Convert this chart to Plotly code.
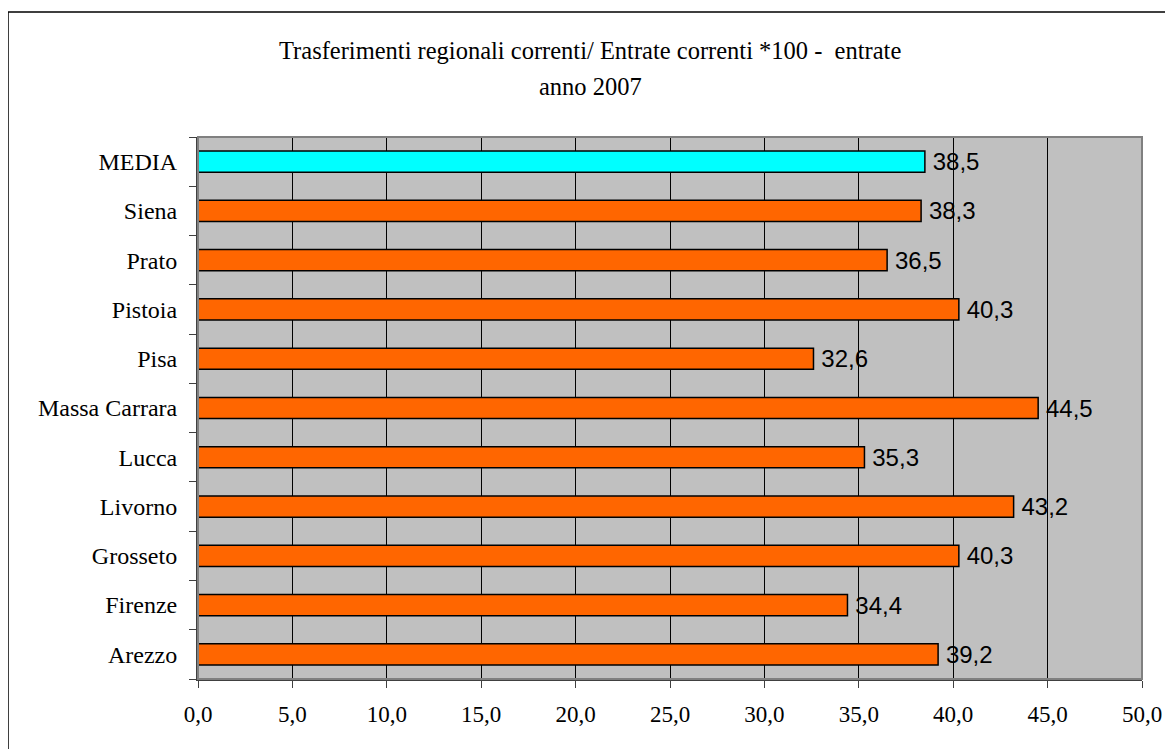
import plotly.graph_objects as go

categories = ["Arezzo", "Firenze", "Grosseto", "Livorno", "Lucca", "Massa Carrara",
              "Pisa", "Pistoia", "Prato", "Siena", "MEDIA"]
values = [39.2, 34.4, 40.3, 43.2, 35.3, 44.5, 32.6, 40.3, 36.5, 38.3, 38.5]
bar_colors = ["#FF6600"] * 10 + ["#00FFFF"]
x_ticks = [0, 5, 10, 15, 20, 25, 30, 35, 40, 45, 50]
title_line1 = "Trasferimenti regionali correnti/ Entrate correnti *100 -  entrate"
title_line2 = "anno 2007"

# page body has an 8px margin; figure coordinates are screen coordinates minus 8
OFF = 8
W, H = 1173 - OFF, 749 - OFF
L, R, T, B = 198 - OFF, 1173 - 1142, 137 - OFF, 749 - 679
pw, ph = W - L - R, H - T - B

fig = go.Figure()
fig.add_trace(go.Bar(
    y=categories, x=values, orientation="h",
    marker=dict(color=bar_colors, line=dict(color="black", width=1.5)),
    width=0.43,
    text=["\u2009" + f"{v:.1f}".replace(".", ",") for v in values],
    textposition="outside",
    constraintext="none",
    textfont=dict(family="Liberation Sans", size=24, color="black"),
    cliponaxis=False,
    hoverinfo="skip",
))

serif = "Liberation Serif"
fig.update_layout(
    width=W, height=H,
    margin=dict(l=L, r=R, t=T, b=B),
    paper_bgcolor="white",
    plot_bgcolor="#C0C0C0",
    separators=", ",
    showlegend=False,
    font=dict(family=serif, size=24, color="black"),
    xaxis=dict(
        range=[0, 50], tickvals=x_ticks, tickformat=".1f",
        showgrid=True, gridcolor="black", gridwidth=1,
        ticks="outside", ticklen=7, tickcolor="#404040", tickwidth=1,
        showline=True, linecolor="#404040", linewidth=2,
        zeroline=False,
        tickfont=dict(family=serif, size=23),
        ticklabelstandoff=6,
    ),
    yaxis=dict(
        type="category", categoryorder="array", categoryarray=categories,
        tickson="boundaries", ticks="outside", ticklen=7, tickcolor="#404040",
        showgrid=False,
        showline=True, linecolor="#404040", linewidth=2,
        tickfont=dict(family=serif, size=24),
        ticklabelstandoff=14,
    ),
    bargap=0.57,
)

# plot area border (grey top/right)
fig.add_shape(type="rect", xref="x domain", yref="y domain", x0=0, x1=1, y0=0, y1=1,
              line=dict(color="#808080", width=2), layer="above")
# outer frame
fig.add_shape(type="rect", xref="paper", yref="paper",
              x0=(8 - 198) / pw, x1=(1171.5 - 198) / pw,
              y0=-(B + 20) / ph, y1=1 + (137 - 12) / ph,
              line=dict(color="black", width=1.5))

cx = (590 - 198) / pw
fig.add_annotation(text=title_line1, xref="paper", yref="paper",
                   x=cx, y=1 + (137 - 50) / ph, showarrow=False,
                   xanchor="center", yanchor="middle",
                   font=dict(family=serif, size=24.5))
fig.add_annotation(text=title_line2, xref="paper", yref="paper",
                   x=cx, y=1 + (137 - 86) / ph, showarrow=False,
                   xanchor="center", yanchor="middle",
                   font=dict(family=serif, size=24.5))

fig.write_html("out.html")
